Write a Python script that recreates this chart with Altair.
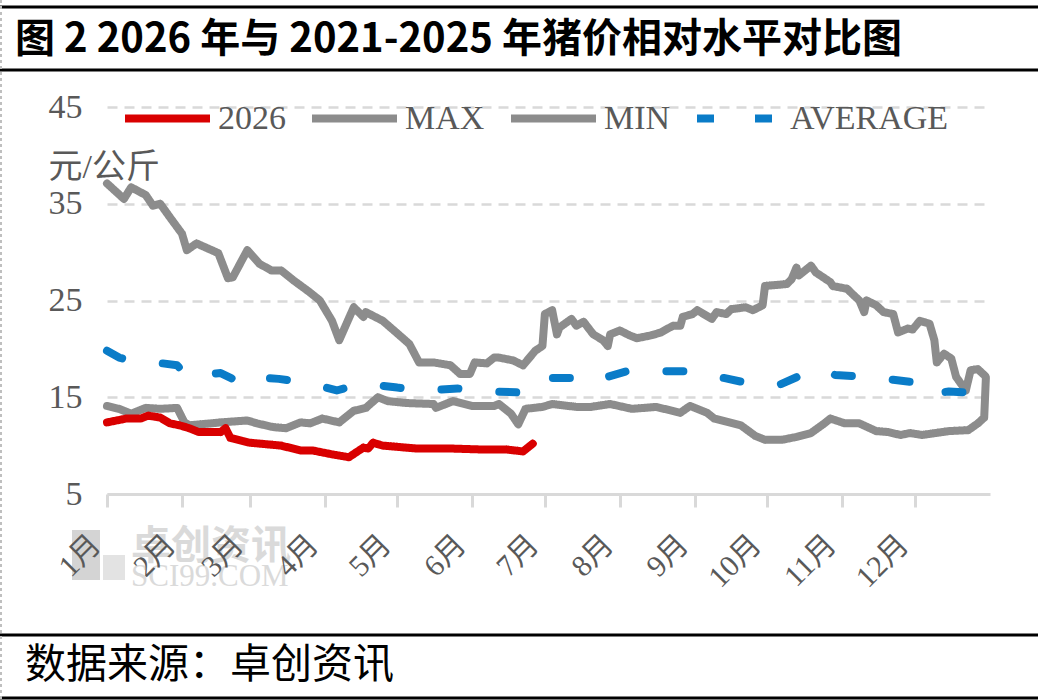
import json
import altair as alt
import pandas as pd

# ---------------- data ----------------
months = ["1月", "2月", "3月", "4月", "5月", "6月", "7月", "8月", "9月", "10月", "11月", "12月"]
month_start = [0, 31, 59, 90, 120, 151, 181, 212, 243, 273, 304, 334]
y_ticks = [5, 15, 25, 35, 45]

series_order = ["2026", "MAX", "MIN", "AVERAGE"]
series_colors = ["#D90000", "#8C8C8C", "#8C8C8C", "#0A7CC8"]
series_dashes = [[1, 0], [1, 0], [1, 0], [17, 41]]

max_day = [0, 7, 10, 16, 19, 22, 26, 31, 33, 37, 46, 50, 52, 58, 63, 68, 72, 77, 83, 88,
           93, 96, 102, 106, 107, 114, 120, 125, 129, 135, 142, 146, 150, 152, 157, 160,
           162, 168, 172, 177, 180, 181, 184, 186, 187, 192, 194, 197, 201, 205, 207, 208,
           212, 216, 219, 225, 229, 234, 237, 238, 242, 244, 248, 250, 252, 256, 258, 264,
           267, 271, 272, 281, 283, 285, 286, 291, 293, 299, 300, 306, 308, 311, 313, 314,
           318, 321, 325, 327, 331, 333, 336, 340, 342, 343, 346, 349, 351, 355, 357, 360, 363]
max_val = [37.1, 35.5, 36.7, 35.9, 34.8, 35.0, 33.6, 31.9, 30.2, 30.9, 29.9, 27.3, 27.4, 30.2,
           28.8, 28.1, 28.1, 27.1, 26.0, 25.0, 22.9, 20.9, 24.3, 23.3, 23.8, 22.9, 21.6, 20.5,
           18.6, 18.6, 18.3, 17.4, 17.4, 18.6, 18.5, 19.1, 19.1, 18.8, 18.3, 19.8, 20.3, 23.6,
           24.0, 21.5, 22.2, 23.1, 22.4, 22.8, 21.5, 20.9, 20.3, 21.5, 21.9, 21.4, 21.1, 21.4,
           21.7, 22.4, 22.4, 23.3, 23.6, 24.0, 23.4, 23.1, 23.8, 23.6, 24.1, 24.3, 24.0, 24.5,
           26.5, 26.7, 27.2, 28.4, 27.6, 28.6, 27.9, 26.9, 26.5, 26.2, 25.7, 25.0, 23.8, 25.0,
           24.5, 23.8, 23.6, 21.7, 22.1, 22.0, 22.9, 22.6, 20.9, 18.6, 19.5, 19.0, 17.1, 15.7,
           17.8, 17.9, 17.2]

min_day = [0, 5, 10, 16, 22, 29, 32, 34, 43, 47, 58, 62, 69, 74, 80, 84, 89, 96, 102, 107,
           112, 116, 124, 135, 136, 143, 151, 160, 162, 167, 170, 173, 180, 184, 194, 200,
           208, 217, 227, 237, 241, 248, 251, 262, 268, 272, 279, 285, 291, 296, 299, 305,
           311, 318, 323, 328, 332, 337, 348, 356, 360, 362.6, 363.3]
min_val = [14.1, 13.8, 13.3, 13.9, 13.8, 13.9, 12.4, 12.1, 12.3, 12.4, 12.6, 12.3, 11.9, 11.8,
           12.4, 12.3, 12.8, 12.4, 13.6, 13.9, 15.0, 14.6, 14.4, 14.3, 13.9, 14.6, 14.1, 14.1,
           14.3, 13.3, 12.2, 13.8, 14.0, 14.3, 14.0, 14.0, 14.3, 13.8, 14.0, 13.4, 14.1, 13.4,
           12.8, 12.1, 11.0, 10.6, 10.6, 10.9, 11.3, 12.2, 12.8, 12.3, 12.3, 11.5, 11.4, 11.1,
           11.3, 11.1, 11.5, 11.6, 12.3, 12.9, 17.0]

y2026_day = [0, 8, 14, 17, 22, 26, 30, 34, 38, 47, 49, 51, 59, 72, 80, 85, 93, 100, 106, 108,
             110, 114, 128, 142, 155, 165, 172, 176]
y2026_val = [12.4, 12.8, 12.8, 13.1, 12.9, 12.3, 12.1, 11.8, 11.4, 11.4, 11.8, 10.8, 10.3,
             10.0, 9.5, 9.5, 9.1, 8.8, 9.8, 9.7, 10.3, 10.0, 9.7, 9.7, 9.6, 9.6, 9.4, 10.2]

avg_day = [0, 5, 10, 23, 29, 33, 47, 52, 58, 65, 71, 83, 95, 102, 107, 120, 132, 145, 157,
           171, 180, 193, 198, 204, 215, 227, 241, 253, 266, 278, 289, 296, 301, 314, 325,
           339, 342, 348, 360, 363]
avg_val = [19.8, 19.1, 18.8, 18.5, 18.3, 17.2, 17.5, 16.9, 17.6, 17.0, 16.9, 16.5, 15.7, 16.2,
           16.4, 16.0, 15.7, 15.9, 15.6, 15.5, 17.0, 17.0, 17.4, 16.9, 17.7, 17.7, 17.7, 17.1,
           16.4, 16.3, 17.5, 17.9, 17.3, 17.1, 16.8, 16.4, 15.4, 15.6, 15.4, 16.2]

title_text = "图 2 2026 年与 2021-2025 年猪价相对水平对比图"
source_text = "数据来源：卓创资讯"
unit_text = "元/公斤"

# ---------------- build table ----------------
rows = []
for name, days, vals in [("MAX", max_day, max_val), ("MIN", min_day, min_val),
                         ("AVERAGE", avg_day, avg_val), ("2026", y2026_day, y2026_val)]:
    for d, v in zip(days, vals):
        rows.append({"series": name, "day": d, "price": v})
df = pd.DataFrame(rows)

W, H = 883, 387
SERIF = "Liberation Serif, Noto Sans CJK SC"
GREY_TXT = "#595959"

label_expr = "{}[indexof({}, datum.value)]".format(
    json.dumps(months, ensure_ascii=False), json.dumps(month_start))

x_enc = alt.X("day:Q",
              scale=alt.Scale(domain=[0, 365], nice=False, zero=False),
              axis=alt.Axis(values=month_start, labelExpr=label_expr, title=None, grid=False,
                            domainColor="#D9D9D9", domainWidth=3, tickColor="#D9D9D9",
                            tickWidth=3, tickSize=13, labelAngle=315, labelAlign="right",
                            labelBaseline="top", labelOffset=-22, labelPadding=22,
                            labelFont=SERIF, labelFontSize=30, labelColor=GREY_TXT,
                            zindex=1))
y_enc = alt.Y("price:Q",
              scale=alt.Scale(domain=[5, 45], nice=False, zero=False),
              axis=alt.Axis(values=y_ticks, title=unit_text, titleAngle=0, titleAlign="left",
                            titleBaseline="middle", titleX=-59, titleY=60, titleFont=SERIF,
                            titleFontSize=34, titleFontWeight="normal", titleColor=GREY_TXT,
                            domain=False, ticks=False, grid=True, gridColor="#D9D9D9",
                            gridWidth=2.5, gridDash=[10, 7], labelFont=SERIF,
                            labelFontSize=34, labelColor=GREY_TXT, labelPadding=25))

leg = alt.Legend(orient="none", legendX=14, legendY=-35, direction="horizontal",
                 columns=4, gridAlign="none")
color_enc = alt.Color("series:N", title=None,
                      scale=alt.Scale(domain=series_order, range=series_colors), legend=leg)
dash_enc = alt.StrokeDash("series:N", title=None,
                          scale=alt.Scale(domain=series_order, range=series_dashes), legend=leg)

def series_layer(names):
    return alt.Chart(df).transform_filter(
        alt.FieldOneOfPredicate(field="series", oneOf=names)
    ).mark_line(strokeWidth=8, strokeCap="round", strokeJoin="round").encode(
        x=x_enc, y=y_enc, color=color_enc, strokeDash=dash_enc, order="day:Q")

one = pd.DataFrame({"k": [0]})

def hline(yv):
    return alt.Chart(one).mark_rule(color="black", strokeWidth=3).encode(
        x=alt.value(-107), x2=alt.value(931), y=alt.value(yv))

left_border = alt.Chart(one).mark_rule(color="#BFBFBF", strokeWidth=2, strokeDash=[3, 3]).encode(
    x=alt.value(-106), y=alt.value(-107), y2=alt.value(593))

title = alt.Chart(pd.DataFrame({"t": [title_text]})).mark_text(
    align="left", baseline="middle", font="Noto Sans CJK SC", fontSize=40, fontWeight="bold",
    color="black").encode(x=alt.value(-92), y=alt.value(-67), text="t:N")

source = alt.Chart(pd.DataFrame({"t": [source_text]})).mark_text(
    align="left", baseline="middle", font="Noto Sans CJK SC", fontSize=41,
    color="black").encode(x=alt.value(-82), y=alt.value(559), text="t:N")

wm_rect = alt.Chart(one).mark_rect(color="#D4D4D4").encode(
    x=alt.value(-35), x2=alt.value(-7), y=alt.value(423), y2=alt.value(473))
wm_rect2 = alt.Chart(one).mark_rect(color="#E3E3E3").encode(
    x=alt.value(-4), x2=alt.value(18), y=alt.value(448), y2=alt.value(473))
wm_text = alt.Chart(pd.DataFrame({"t": ["卓创资讯"]})).mark_text(
    align="left", baseline="middle", font="Noto Sans CJK SC", fontSize=40, fontWeight="bold",
    color="#DADADA").encode(x=alt.value(24), y=alt.value(440), text="t:N")
wm_text2 = alt.Chart(pd.DataFrame({"t": ["SCI99.COM"]})).mark_text(
    align="left", baseline="middle", font="Liberation Serif", fontSize=31,
    color="#DADADA").encode(x=alt.value(24), y=alt.value(470), text="t:N")

chart = alt.layer(
    wm_rect, wm_rect2, wm_text, wm_text2,
    series_layer(["MAX", "MIN"]),
    series_layer(["AVERAGE"]),
    series_layer(["2026"]),
    hline(-100), hline(-37), hline(528), hline(591), left_border,
    title, source,
).properties(
    width=W, height=H,
    padding={"left": 107, "top": 107, "right": 48, "bottom": 206},
    autosize=alt.AutoSizeParams(type="none"),
).configure_view(stroke=None).configure_legend(
    symbolType="stroke", symbolSize=7225, symbolStrokeWidth=8, labelFont="Liberation Serif",
    labelFontSize=34, labelColor=GREY_TXT, columnPadding=10, labelOffset=4, padding=0,
    rowPadding=0,
)

chart.save("out.html", embed_options={"renderer": "svg", "actions": False})
